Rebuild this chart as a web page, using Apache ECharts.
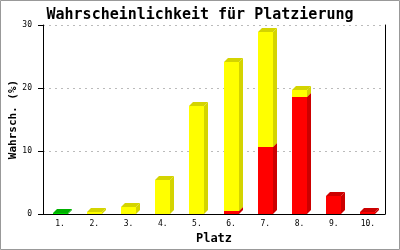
<!DOCTYPE html>
<html>
<head>
<meta charset="utf-8">
<script src="https://cdn.jsdelivr.net/npm/echarts@6/dist/echarts.min.js"></script>
<style>
html,body{margin:0;padding:0;background:#fff;}
#chart{width:400px;height:250px;}
</style>
</head>
<body>
<div id="chart"></div>
<script>
const titleText = 'Wahrscheinlichkeit für Platzierung';
const yAxisName = 'Wahrsch. (%)';
const xAxisName = 'Platz';
const categories = ['1.', '2.', '3.', '4.', '5.', '6.', '7.', '8.', '9.', '10.'];
const yTicks = [0, 10, 20, 30];
const greenValues  = [0.2, 0,   0,   0,   0,    0,    0,    0,    0,   0];
const redValues    = [0,   0,   0,   0,   0,    0.5,  10.7, 18.6, 2.9, 0.3];
const yellowValues = [0,   0.3, 1.1, 5.4, 17.1, 23.7, 18.2, 1.1,  0,   0];

const stackOrder = [
  { values: greenValues,  front: '#00DD00', dark: '#00B000' },
  { values: redValues,    front: '#FF0000', dark: '#CC0000' },
  { values: yellowValues, front: '#FFFF00', dark: '#D4D400' }
];

// build stacked [index, low, high] data
const base = categories.map(() => 0);
const seriesData = stackOrder.map(s => {
  const d = s.values.map((v, i) => {
    const lo = base[i];
    const hi = lo + v;
    base[i] = hi;
    return [i, lo, hi];
  });
  return d;
});

const DEPTH = 4;
const BARW = 15;

function makeRender(front, dark) {
  return function (params, api) {
    const ci = api.value(0), lo = api.value(1), hi = api.value(2);
    if (!(hi > lo)) return { type: 'group', children: [] };
    const pLo = api.coord([ci, lo]);
    const pHi = api.coord([ci, hi]);
    const x0 = Math.round(pLo[0] - BARW / 2);
    const x1 = x0 + BARW;
    const yb = Math.round(pLo[1]);
    let yt = Math.round(pHi[1]);
    if (yt >= yb) yt = yb - 1;
    const d = DEPTH;
    return {
      type: 'group',
      children: [
        { type: 'polygon', shape: { points: [[x1, yb], [x1, yt], [x1 + d, yt - d], [x1 + d, yb - d]] }, style: { fill: dark } },
        { type: 'polygon', shape: { points: [[x0, yt], [x1, yt], [x1 + d, yt - d], [x0 + d, yt - d]] }, style: { fill: dark } },
        { type: 'rect', shape: { x: x0, y: yt, width: BARW, height: yb - yt }, style: { fill: front } }
      ]
    };
  };
}

const chart = echarts.init(document.getElementById('chart'), null, { renderer: 'canvas' });
const mono = 'DejaVu Sans Mono';
chart.setOption({
  animation: false,
  backgroundColor: '#fff',
  title: {
    text: titleText, left: 'center', top: 3,
    textStyle: { fontFamily: mono, fontWeight: 'bold', fontSize: 15, color: '#000' }
  },
  graphic: [{
    type: 'rect', shape: { x: 0.5, y: 0.5, width: 399, height: 249 },
    style: { fill: 'none', stroke: '#999', lineWidth: 1 }, silent: true, z: 100
  }],
  grid: { left: 43, right: 15, top: 25, bottom: 36, containLabel: false, outerBoundsMode: 'none' },
  xAxis: {
    type: 'category', data: categories, boundaryGap: true,
    name: xAxisName, nameLocation: 'middle', nameGap: 19, nameMoveOverlap: false,
    nameTextStyle: { fontFamily: mono, fontWeight: 'bold', fontSize: 12, color: '#000' },
    axisLine: { lineStyle: { color: '#000', width: 1 } },
    axisTick: { show: false },
    axisLabel: { fontFamily: mono, fontSize: 8, color: '#000', margin: 6 },
    splitLine: { show: false }
  },
  yAxis: [{
    type: 'value', min: yTicks[0], max: yTicks[yTicks.length - 1], interval: 10,
    name: yAxisName, nameLocation: 'middle', nameGap: 24, nameRotate: 90, nameMoveOverlap: false,
    nameTextStyle: { fontFamily: mono, fontWeight: 'bold', fontSize: 11, color: '#000' },
    axisLine: { show: true, lineStyle: { color: '#000', width: 1 } },
    axisTick: { show: true, length: 5, lineStyle: { color: '#000' } },
    axisLabel: { fontFamily: mono, fontSize: 8, color: '#000', margin: 11 },
    splitLine: { show: true, lineStyle: { color: '#bbb', type: [2, 4], width: 1 } }
  }, {
    type: 'value', min: yTicks[0], max: yTicks[yTicks.length - 1], interval: 10, position: 'right',
    axisLine: { show: true, lineStyle: { color: '#000', width: 1 } },
    axisTick: { show: false }, axisLabel: { show: false }, splitLine: { show: false }
  }],
  series: stackOrder.map((s, k) => ({
    type: 'custom',
    renderItem: makeRender(s.front, s.dark),
    encode: { x: 0, y: [1, 2] },
    data: seriesData[k],
    z: 2 + k
  }))
});
</script>
</body>
</html>
